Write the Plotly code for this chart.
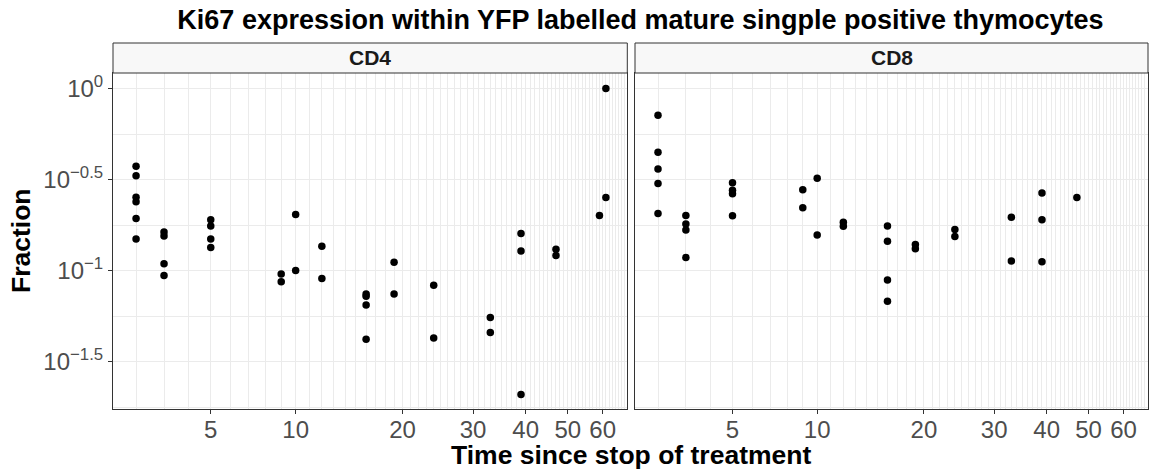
import numpy as np
import plotly.graph_objects as go

# ---------------- data ----------------
cd4_days = [2, 2, 2, 2, 2, 2, 3, 3, 3, 3, 5, 5, 5, 5, 9, 9, 10, 10, 12, 12,
            16, 16, 16, 16, 19, 19, 24, 24, 33, 33, 39, 39, 39, 47, 47, 59, 61, 61]
cd4_frac = [0.374, 0.332, 0.253, 0.239, 0.193, 0.149,
            0.163, 0.155, 0.109, 0.094,
            0.190, 0.176, 0.149, 0.134,
            0.0957, 0.0868,
            0.203, 0.100,
            0.136, 0.0905,
            0.0745, 0.0722, 0.0648, 0.0420,
            0.111, 0.0743,
            0.0832, 0.0427,
            0.0552, 0.0457,
            0.160, 0.128, 0.0209,
            0.131, 0.121,
            0.201,
            1.0, 0.252]

cd8_days = [2, 2, 2, 2, 2, 3, 3, 3, 3, 5, 5, 5, 5, 9, 9, 10, 10, 12, 12,
            16, 16, 16, 16, 19, 19, 24, 24, 33, 33, 39, 39, 39, 47]
cd8_frac = [0.713, 0.447, 0.361, 0.301, 0.206,
            0.201, 0.180, 0.167, 0.118,
            0.304, 0.276, 0.264, 0.200,
            0.278, 0.221,
            0.321, 0.157,
            0.184, 0.175,
            0.176, 0.145, 0.0889, 0.0679,
            0.139, 0.132,
            0.168, 0.154,
            0.196, 0.113,
            0.267, 0.190, 0.112,
            0.252]

panels = ["CD4", "CD8"]
x_tick_days = [5, 10, 20, 30, 40, 50, 60]
y_tick_vals = [1.0, 10 ** -0.5, 0.1, 10 ** -1.5]
y_tick_text = ["10<sup>0</sup>", "10<sup>\u22120.5</sup>", "10<sup>\u22121</sup>", "10<sup>\u22121.5</sup>"]
y_minor_vals = [10 ** -0.25, 10 ** -0.75, 10 ** -1.25, 10 ** -1.75]

# x scale: log10(days + 5)
OFFSET = 5.0
def tx(d):
    return np.log10(np.asarray(d, dtype=float) + OFFSET)

x_range = [float(tx(1.27)), float(tx(68.1))]
y_range = [-1.760, 0.085]
minor_days = [d for d in range(2, 69) if d not in x_tick_days]

W, H = 1151, 470
ML, MR, MT, MB = 113, 3, 73, 61
PW = W - ML - MR
PH = H - MT - MB
left_dom = [0.0, 514.3 / PW]
right_dom = [(635 - ML) / PW, 1.0]

FONT = "Liberation Sans, Arial, sans-serif"
GRID = "#EBEBEB"
BORDER = "#333333"
TICK_SIZE = 24

fig = go.Figure()
fig.add_trace(go.Scatter(x=tx(cd4_days), y=cd4_frac, mode="markers",
                         marker=dict(color="black", size=7.5), xaxis="x", yaxis="y",
                         showlegend=False, name="CD4"))
fig.add_trace(go.Scatter(x=tx(cd8_days), y=cd8_frac, mode="markers",
                         marker=dict(color="black", size=7.5), xaxis="x2", yaxis="y2",
                         showlegend=False, name="CD8"))

xaxis_common = dict(
    range=x_range, tickmode="array", tickvals=list(tx(x_tick_days)),
    ticktext=[str(d) for d in x_tick_days], showgrid=True, gridcolor=GRID, gridwidth=1.1,
    zeroline=False, showline=True, mirror=True, linecolor=BORDER, linewidth=1,
    ticks="outside", ticklen=4, tickcolor=BORDER, tickwidth=1, ticklabelstandoff=-5,
    tickfont=dict(family=FONT, size=TICK_SIZE, color="#4D4D4D"),
    minor=dict(tickvals=list(tx(minor_days)), showgrid=True, gridcolor=GRID, gridwidth=0.6, ticks=""),
)
yaxis_common = dict(
    type="log", range=y_range, tickmode="array", tickvals=y_tick_vals, ticktext=y_tick_text,
    showgrid=True, gridcolor=GRID, gridwidth=1.1, zeroline=False,
    showline=True, mirror=True, linecolor=BORDER, linewidth=1,
    minor=dict(tickvals=y_minor_vals, showgrid=True, gridcolor=GRID, gridwidth=0.6, ticks=""),
)

fig.update_layout(
    width=W, height=H,
    margin=dict(l=ML, r=MR, t=MT, b=MB, autoexpand=False),
    paper_bgcolor="white", plot_bgcolor="white",
    font=dict(family=FONT, color="black"),
    xaxis=dict(domain=left_dom, anchor="y", **xaxis_common),
    xaxis2=dict(domain=right_dom, anchor="y2", **xaxis_common),
    yaxis=dict(domain=[0, 1], anchor="x", ticks="outside", ticklen=4, tickcolor=BORDER,
               tickfont=dict(family=FONT, size=TICK_SIZE, color="#4D4D4D"), **yaxis_common),
    yaxis2=dict(domain=[0, 1], anchor="x2", matches="y", showticklabels=False, ticks="",
                **yaxis_common),
    title=dict(text="Ki67 expression within YFP labelled mature singple positive thymocytes",
               x=0.5 + 10 / PW, xref="paper", xanchor="center", y=1 - 20 / H, yref="container",
               yanchor="middle", font=dict(family=FONT, size=27, color="black", weight="bold")),
)

# strips
strip_h = 30 / PH
for dom, lab in zip([left_dom, right_dom], panels):
    fig.add_shape(type="rect", xref="paper", yref="paper", x0=dom[0], x1=dom[1],
                  y0=1.0, y1=1.0 + strip_h, fillcolor="#F8F8F8",
                  line=dict(color=BORDER, width=1), layer="above")
    fig.add_annotation(text=lab, xref="paper", yref="paper", x=(dom[0] + dom[1]) / 2,
                       y=1.0 + strip_h / 2, showarrow=False, xanchor="center", yanchor="middle",
                       font=dict(family=FONT, size=21, color="#1A1A1A", weight="bold"))

# axis titles
fig.add_annotation(text="Fraction", xref="paper", yref="paper", x=(21 - ML) / PW, y=0.5,
                   textangle=-90, showarrow=False, xanchor="center", yanchor="middle",
                   font=dict(family=FONT, size=26.5, color="black", weight="bold"))
fig.add_annotation(text="Time since stop of treatment", xref="paper", yref="paper",
                   x=0.5, y=(H - MB - 455) / PH, showarrow=False, xanchor="center",
                   yanchor="middle",
                   font=dict(family=FONT, size=26.5, color="black", weight="bold"))

fig.write_html("out.html")
